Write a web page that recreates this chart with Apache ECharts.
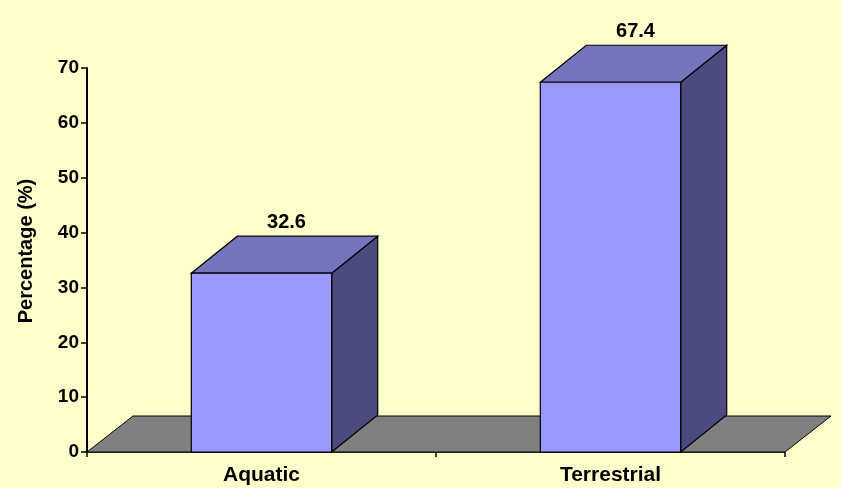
<!DOCTYPE html>
<html>
<head>
<meta charset="utf-8">
<script src="https://cdn.jsdelivr.net/npm/echarts@6/dist/echarts.min.js"></script>
<style>html,body{margin:0;padding:0;background:#FFFFCC;}#c{width:841px;height:488px;}</style>
</head>
<body>
<div id="c"></div>
<script>
const categories = ['Aquatic', 'Terrestrial'];
const values = [32.6, 67.4];
const yTicks = [0, 10, 20, 30, 40, 50, 60, 70];

const DX = 46, DY = -37;
const FONT = '"Liberation Sans", Arial, sans-serif';
const chart = echarts.init(document.getElementById('c'));

function floorItem(params, api) {
  const cs = params.coordSys;
  const y0 = api.coord([0, 0])[1];
  const x0 = cs.x, x1 = cs.x + cs.width;
  return {
    type: 'polygon',
    shape: { points: [[x0, y0], [x1, y0], [x1 + DX, y0 + DY + 1], [x0 + DX, y0 + DY + 1]] },
    style: { fill: '#808080', stroke: '#000', lineWidth: 1 }
  };
}

function barItem(params, api) {
  const ci = api.value(0);
  const v = api.value(1);
  const base = api.coord([ci, 0]);
  const top = api.coord([ci, v]);
  const w = api.size([1, 0])[0] * 0.4023;
  const xl = base[0] - w / 2, xr = base[0] + w / 2;
  const yt = top[1], yb = base[1];
  const st = { stroke: '#000', lineWidth: 1.2, lineJoin: 'miter' };
  return {
    type: 'group',
    children: [
      { type: 'polygon', shape: { points: [[xr, yb], [xr + DX, yb + DY], [xr + DX, yt + DY], [xr, yt]] },
        style: Object.assign({ fill: '#4B4B80' }, st) },
      { type: 'polygon', shape: { points: [[xl, yt], [xr, yt], [xr + DX, yt + DY], [xl + DX, yt + DY]] },
        style: Object.assign({ fill: '#7575BE' }, st) },
      { type: 'rect', shape: { x: xl, y: yt, width: w, height: yb - yt },
        style: Object.assign({ fill: '#9999FF' }, st) },
      { type: 'text', x: base[0] + DX / 2 + 2, y: yt + DY - 4,
        style: { text: String(v), fill: '#000', font: 'bold 20px ' + FONT, align: 'center', verticalAlign: 'bottom' } }
    ]
  };
}

chart.setOption({
  backgroundColor: '#FFFFCC',
  animation: false,
  grid: { left: 87, right: 56, top: 68, bottom: 36 },
  xAxis: {
    type: 'category',
    data: categories,
    boundaryGap: true,
    axisLine: { lineStyle: { color: '#000', width: 1.5 } },
    axisTick: { show: true, length: 5, inside: false, lineStyle: { color: '#000', width: 1.5 } },
    axisLabel: { color: '#000', fontFamily: FONT, fontWeight: 'bold', fontSize: 21, margin: 13 }
  },
  yAxis: {
    type: 'value',
    min: yTicks[0], max: yTicks[yTicks.length - 1], interval: 10,
    name: 'Percentage (%)',
    nameLocation: 'middle',
    nameGap: 51,
    nameTextStyle: { color: '#000', fontFamily: FONT, fontWeight: 'bold', fontSize: 20, padding: [0, 0, 0, 18] },
    splitLine: { show: false },
    axisLine: { show: true, lineStyle: { color: '#000', width: 2 } },
    axisTick: { show: true, length: 6, inside: false, lineStyle: { color: '#000', width: 1.5 } },
    axisLabel: { color: '#000', fontFamily: FONT, fontWeight: 'bold', fontSize: 19, margin: 8 }
  },
  series: [
    { type: 'custom', z: 1, clip: false, renderItem: floorItem, data: [[0, 0]], silent: true },
    { type: 'custom', z: 2, clip: false, renderItem: barItem,
      data: values.map((v, i) => [i, v]) }
  ]
});
</script>
</body>
</html>
